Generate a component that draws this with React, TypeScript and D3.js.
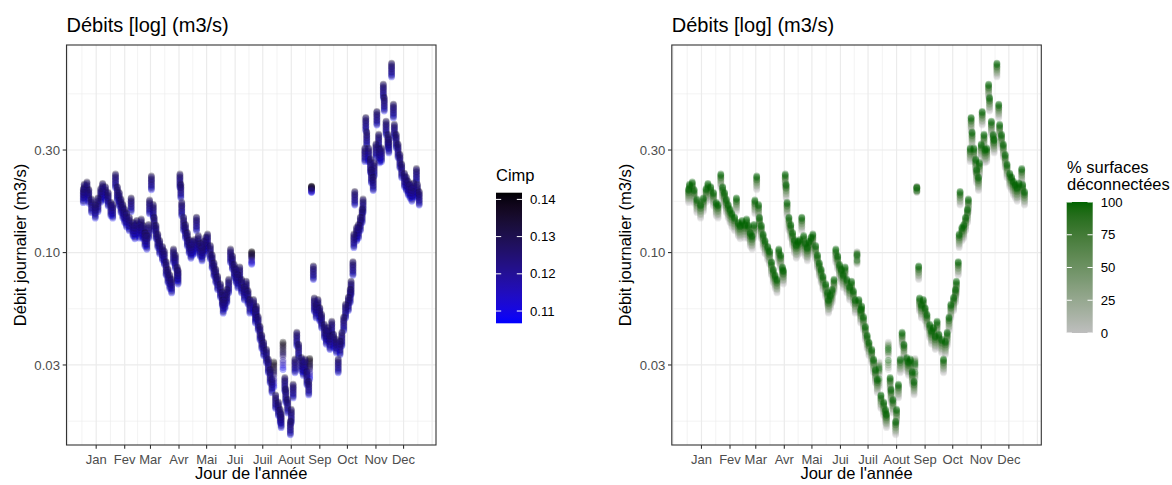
import React from "react";
import * as d3 from "d3";

// ---------- DATA ----------
// Day of year and daily flow (m3/s) of the reference scenario
const jours = [1,2,5,7,10,14,17,20,22,25,28,31,33,36,38,40,42,44,46,48,51,53,55,57,59,62,64,66,68,70,72,73,75,77,78,80,82,84,87,89,91,93,95,97,99,101,103,104,106,107,108,110,112,114,116,118,120,122,124,126,128,130,132,134,136,139,141,143,145,147,150,152,153,155,157,159,161,163,165,167,169,171,173,176,178,180,182,184,186,188,189,191,193,195,197,200,202,204,206,208,210,213,215,216,218,220,221,223,226,227,229,231,233,235,238,240,242,244,246,247,249,251,252,254,256,258,260,263,265,267,269,271,273,276,278,280,282,284,286,289,291,292,294,295,296,298,300,302,304,305,307,308,309,311,313,314,316,317,319,320,322,323,325,327,328,330,332,333,336,338,339,341,343,345,347,350,352,354,356,358,360,363,364,366];
const debits = [0.196,0.206,0.211,0.195,0.176,0.166,0.178,0.197,0.208,0.201,0.189,0.170,0.166,0.230,0.201,0.189,0.176,0.166,0.158,0.151,0.145,0.178,0.137,0.133,0.140,0.134,0.142,0.133,0.123,0.119,0.134,0.174,0.225,0.166,0.145,0.133,0.121,0.113,0.106,0.101,0.090,0.083,0.078,0.0745,0.103,0.097,0.085,0.082,0.230,0.206,0.170,0.145,0.134,0.123,0.114,0.108,0.112,0.114,0.145,0.119,0.110,0.105,0.112,0.117,0.121,0.107,0.097,0.089,0.083,0.077,0.071,0.065,0.060,0.063,0.067,0.0745,0.103,0.096,0.0875,0.083,0.0786,0.085,0.0745,0.069,0.073,0.066,0.060,0.088,0.060,0.054,0.056,0.050,0.045,0.041,0.038,0.0352,0.0317,0.0284,0.0256,0.0235,0.0216,0.0200,0.0185,0.0176,0.0284,0.026,0.023,0.0206,0.0163,0.0185,0.0242,0.0317,0.0422,0.0372,0.0322,0.0308,0.0317,0.0278,0.0250,0.0256,0.190,0.086,0.061,0.057,0.060,0.055,0.0512,0.046,0.043,0.0445,0.0406,0.0475,0.0414,0.0392,0.0317,0.0384,0.0422,0.0497,0.0570,0.0615,0.0670,0.0730,0.090,0.121,0.191,0.130,0.134,0.145,0.158,0.176,0.304,0.422,0.361,0.304,0.270,0.242,0.223,0.260,0.317,0.450,0.352,0.300,0.304,0.602,0.523,0.405,0.352,0.334,0.754,0.486,0.392,0.352,0.317,0.284,0.256,0.232,0.223,0.213,0.206,0.199,0.209,0.244,0.206,0.191];

// Scenarios: % disconnected surfaces, matching Cimp, log10 shift on ordinary days,
// and relative weight of the shift on small rain days
const pctDeconnecte = [0, 0, 0, 25, 25, 25, 50, 50, 50, 75, 75, 75, 100, 100, 100];
const cimpScenario = [0.1418, 0.124, 0.1075, 0.14, 0.126, 0.11, 0.138, 0.128, 0.113, 0.136, 0.13, 0.116, 0.134, 0.132, 0.119];
const decalageBase = [-0.05, -0.055, -0.06, -0.036, -0.04, -0.044, -0.022, -0.026, -0.03, -0.01, -0.013, -0.016, 0.004, 0, -0.004];
const poidsPluie = [1, 0.49, 0.02, 0.95, 0.55, 0.09, 0.89, 0.61, 0.18, 0.84, 0.66, 0.27, 0.78, 0.72, 0.35];
const joursPluie = [184, 208, 218, 247, 249];
const amplitudePluie = [0.06, 0.12, 0.13, 0.1, 0.03];

const moisLabels = ["Jan", "Fev", "Mar", "Avr", "Mai", "Jui", "Juil", "Aout", "Sep", "Oct", "Nov", "Dec"];
const moisJours = [15, 46, 74, 105, 135, 166, 196, 227, 258, 288, 319, 349];
const grilleJoursMajeurs = [-16, 15, 46, 74, 105, 135, 166, 196, 227, 258, 288, 319, 349, 380];
const yBreaks = [0.03, 0.1, 0.3];
const yLabels = ["0.03", "0.10", "0.30"];
const cimpBreaks = [0.11, 0.12, 0.13, 0.14];
const cimpLabels = ["0.11", "0.12", "0.13", "0.14"];
const pctBreaks = [0, 25, 50, 75, 100];
const pctLabels = ["0", "25", "50", "75", "100"];

// ---------- LAYOUT ----------
const W = 1172;
const H = 485;
const PL = 66.5;
const PT = 45;
const PW = 369.5;
const PH = 400;
const OFFSET_RIGHT = 605.3;
const FONT = "'Liberation Sans', Arial, Helvetica, sans-serif";

const xScale = d3.scaleLinear().domain([-17.25, 384.25]).range([0, PW]);
const yScale = d3.scaleLog().domain([0.01273, 0.924]).range([PH, 0]);

const cimpColor = d3
  .scaleLinear<string>()
  .domain([0.1067, 0.1418])
  .range(["#0000FF", "#000000"])
  .interpolate(d3.interpolateLab);
const pctColor = d3
  .scaleLinear<string>()
  .domain([0, 100])
  .range(["#BEBEBE", "#006400"])
  .interpolate(d3.interpolateLab);

type Pt = { d: number; v: number; s: number };

function buildPoints(): Pt[] {
  const pts: Pt[] = [];
  pctDeconnecte.forEach((_, s) => {
    jours.forEach((d, j) => {
      const k = joursPluie.indexOf(d);
      const shift = k >= 0 ? amplitudePluie[k] * poidsPluie[s] : decalageBase[s];
      pts.push({ d, v: debits[j] * Math.pow(10, shift), s });
    });
  });
  return pts;
}
const points = buildPoints();

function minorX(): number[] {
  const m: number[] = [];
  for (let i = 0; i < grilleJoursMajeurs.length - 1; i++) {
    m.push((grilleJoursMajeurs[i] + grilleJoursMajeurs[i + 1]) / 2);
  }
  return m;
}
function minorY(): number[] {
  const l = yBreaks.map((b) => Math.log10(b));
  const step = l[1] - l[0];
  const ext = [l[0] - step, ...l, l[l.length - 1] + step];
  const m: number[] = [];
  for (let i = 0; i < ext.length - 1; i++) m.push(Math.pow(10, (ext[i] + ext[i + 1]) / 2));
  return m;
}

function Panel({ ox, colorOf }: { ox: number; colorOf: (s: number) => string }) {
  const left = PL + ox;
  const [d0, d1] = xScale.domain();
  const [y0, y1] = yScale.domain();
  return (
    <g>
      <text x={left} y={32} fontSize={20} fontFamily={FONT} fill="#000">
        Débits [log] (m3/s)
      </text>
      <g transform={`translate(${left},${PT})`}>
        <rect x={0} y={0} width={PW} height={PH} fill="#fff" />
        {minorY()
          .filter((v) => v > y0 && v < y1)
          .map((v, i) => (
            <line key={"my" + i} x1={0} x2={PW} y1={yScale(v)} y2={yScale(v)} stroke="#EBEBEB" strokeWidth={0.6} />
          ))}
        {minorX()
          .filter((v) => v > d0 && v < d1)
          .map((v, i) => (
            <line key={"mx" + i} x1={xScale(v)} x2={xScale(v)} y1={0} y2={PH} stroke="#EBEBEB" strokeWidth={0.6} />
          ))}
        {yBreaks.map((v, i) => (
          <line key={"gy" + i} x1={0} x2={PW} y1={yScale(v)} y2={yScale(v)} stroke="#EBEBEB" strokeWidth={1.2} />
        ))}
        {grilleJoursMajeurs
          .filter((v) => v > d0 && v < d1)
          .map((v, i) => (
            <line key={"gx" + i} x1={xScale(v)} x2={xScale(v)} y1={0} y2={PH} stroke="#EBEBEB" strokeWidth={1.2} />
          ))}
        {points.map((p, i) => (
          <circle key={i} cx={xScale(p.d)} cy={yScale(p.v)} r={3.4} fill={colorOf(p.s)} fillOpacity={0.3} />
        ))}
        <rect x={0} y={0} width={PW} height={PH} fill="none" stroke="#333333" strokeWidth={1.1} />
        {yBreaks.map((v, i) => (
          <g key={"ty" + i}>
            <line x1={-3.8} x2={0} y1={yScale(v)} y2={yScale(v)} stroke="#333333" strokeWidth={1.1} />
            <text x={-6.5} y={yScale(v)} dy="0.35em" textAnchor="end" fontSize={13.2} fontFamily={FONT} fill="#4D4D4D">
              {yLabels[i]}
            </text>
          </g>
        ))}
        {moisJours.map((d, i) => (
          <g key={"tx" + i}>
            <line x1={xScale(d)} x2={xScale(d)} y1={PH} y2={PH + 3.8} stroke="#333333" strokeWidth={1.1} />
            <text x={xScale(d)} y={PH + 19} textAnchor="middle" fontSize={13} fontFamily={FONT} fill="#4D4D4D">
              {moisLabels[i]}
            </text>
          </g>
        ))}
        <text x={PW / 2} y={PH + 34} textAnchor="middle" fontSize={16.5} fontFamily={FONT} fill="#000">
          Jour de l'année
        </text>
      </g>
      <text
        transform={`translate(${ox + 26},${PT + PH / 2}) rotate(-90)`}
        textAnchor="middle"
        fontSize={16.5}
        fontFamily={FONT}
        fill="#000"
      >
        Débit journalier (m3/s)
      </text>
    </g>
  );
}

function ColorBar({
  id,
  x,
  y,
  h,
  domain,
  color,
  breaks,
  labels,
}: {
  id: string;
  x: number;
  y: number;
  h: number;
  domain: [number, number];
  color: (v: number) => string;
  breaks: number[];
  labels: string[];
}) {
  const w = 26;
  const sc = d3.scaleLinear().domain(domain).range([y + h, y]);
  const stops = d3.range(0, 21).map((i) => {
    const t = i / 20;
    return { off: t, c: color(domain[1] - t * (domain[1] - domain[0])) };
  });
  return (
    <g>
      <defs>
        <linearGradient id={id} x1="0" y1="0" x2="0" y2="1">
          {stops.map((s, i) => (
            <stop key={i} offset={s.off} stopColor={s.c} />
          ))}
        </linearGradient>
      </defs>
      <rect x={x} y={y} width={w} height={h} fill={`url(#${id})`} />
      {breaks.map((b, i) => (
        <g key={i}>
          <line x1={x} x2={x + w / 5} y1={sc(b)} y2={sc(b)} stroke="#fff" strokeWidth={1} />
          <line x1={x + w - w / 5} x2={x + w} y1={sc(b)} y2={sc(b)} stroke="#fff" strokeWidth={1} />
          <text x={x + w + 8} y={sc(b)} dy="0.35em" fontSize={13.2} fontFamily={FONT} fill="#000">
            {labels[i]}
          </text>
        </g>
      ))}
    </g>
  );
}

export default function App() {
  return (
    <svg
      width={W}
      height={H}
      viewBox={`0 0 ${W} ${H}`}
      style={{ position: "absolute", left: 0, top: 0, background: "#fff" }}
    >
      <rect x={0} y={0} width={W} height={H} fill="#fff" />
      <Panel ox={0} colorOf={(s) => cimpColor(cimpScenario[s])} />
      <Panel ox={OFFSET_RIGHT} colorOf={(s) => pctColor(pctDeconnecte[s])} />

      <text x={496} y={181} fontSize={16.5} fontFamily={FONT} fill="#000">
        Cimp
      </text>
      <ColorBar
        id="gradCimp"
        x={496}
        y={192.7}
        h={130.6}
        domain={[0.1067, 0.1418]}
        color={(v) => cimpColor(v)}
        breaks={cimpBreaks}
        labels={cimpLabels}
      />

      <text x={1067} y={173} fontSize={16.5} fontFamily={FONT} fill="#000">
        % surfaces
      </text>
      <text x={1067} y={190} fontSize={16.5} fontFamily={FONT} fill="#000">
        déconnectées
      </text>
      <ColorBar
        id="gradPct"
        x={1066.7}
        y={202}
        h={131}
        domain={[0, 100]}
        color={(v) => pctColor(v)}
        breaks={pctBreaks}
        labels={pctLabels}
      />
    </svg>
  );
}
